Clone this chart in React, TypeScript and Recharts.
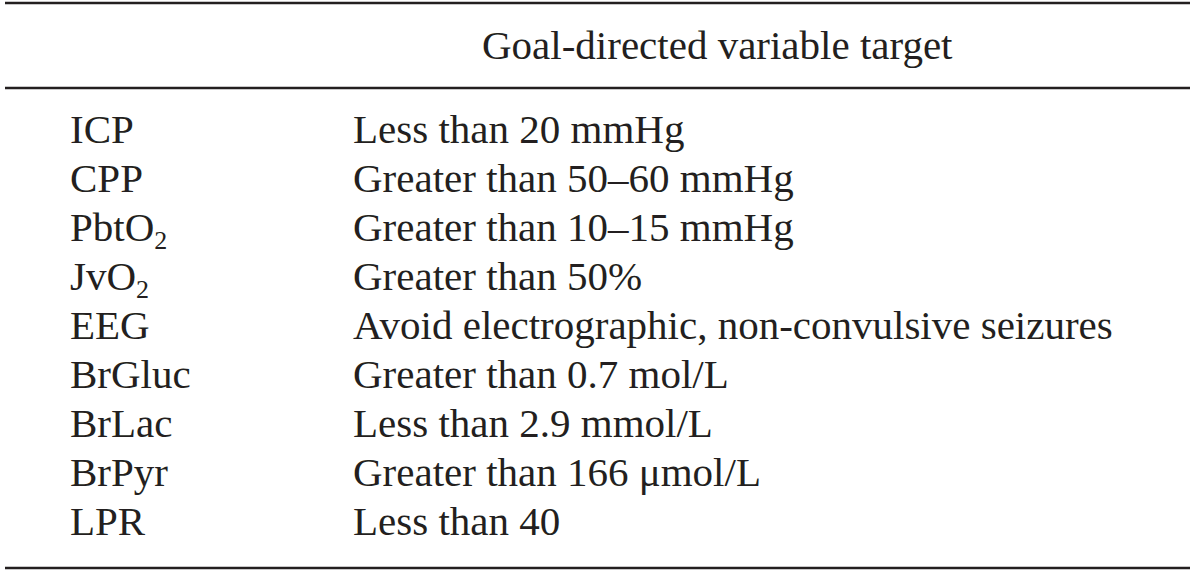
import { Bar, BarChart, XAxis, YAxis } from "recharts";

const variables = ["ICP", "CPP", "PbtO2", "JvO2", "EEG", "BrGluc", "BrLac", "BrPyr", "LPR"];
const targets = [
  "Less than 20 mmHg",
  "Greater than 50–60 mmHg",
  "Greater than 10–15 mmHg",
  "Greater than 50%",
  "Avoid electrographic, non-convulsive seizures",
  "Greater than 0.7 mol/L",
  "Less than 2.9 mmol/L",
  "Greater than 166 μmol/L",
  "Less than 40",
];
const headerTitle = "Goal-directed variable target";

const rows = variables.map((variable, i) => ({ variable, target: targets[i] }));

const INK = "#231f20";
const FONT = "'Liberation Serif', 'Times New Roman', serif";
const FONT_SIZE = 41;
const COL1_X = 70;
const COL2_X = 353;
const HEADER_X = 482;

// "PbtO2" -> PbtO with a subscript 2
function renderName(name: string) {
  const m = name.match(/^(.*O)2$/);
  if (!m) return name;
  return [
    <tspan key="b">{m[1]}</tspan>,
    <tspan key="s" dy={8} fontSize={26}>
      2
    </tspan>,
  ];
}

function RowTick(props: any) {
  const { y, index, payload } = props;
  const row = rows.find((r) => r.variable === payload?.value) ?? rows[index];
  return (
    <g fontFamily={FONT} fontSize={FONT_SIZE} fill={INK}>
      <text x={COL1_X} y={y} dy="0.35em" textAnchor="start">
        {renderName(String(payload.value))}
      </text>
      <text x={COL2_X} y={y} dy="0.35em" textAnchor="start">
        {row?.target}
      </text>
    </g>
  );
}

function HeaderLabel(props: any) {
  const vb = props.viewBox || { x: 5, y: 3, width: 1185, height: 85 };
  return (
    <g>
      <line
        x1={vb.x}
        x2={vb.x + vb.width}
        y1={vb.y}
        y2={vb.y}
        stroke={INK}
        strokeWidth={2.5}
      />
      <text
        x={HEADER_X}
        y={vb.y + vb.height / 2}
        dy="0.32em"
        fontFamily={FONT}
        fontSize={FONT_SIZE}
        fill={INK}
      >
        {headerTitle}
      </text>
    </g>
  );
}

export default function App() {
  return (
    <div style={{ position: "absolute", left: 0, top: 0, width: 1200, height: 575, background: "#fff" }}>
      <BarChart
        width={1200}
        height={575}
        data={rows}
        layout="vertical"
        margin={{ top: 3, right: 10, bottom: 0, left: 4 }}
      >
        <XAxis
          xAxisId="head"
          orientation="top"
          type="number"
          domain={[0, 1]}
          height={85}
          tick={false}
          tickLine={false}
          axisLine={{ stroke: INK, strokeWidth: 2.5 }}
          label={{ content: (p: any) => <HeaderLabel {...p} /> }}
        />
        <XAxis
          type="number"
          domain={[0, 1]}
          height={7}
          tick={false}
          tickLine={false}
          axisLine={{ stroke: INK, strokeWidth: 2.5 }}
        />
        <YAxis
          type="category"
          dataKey="variable"
          width={1}
          interval={0}
          axisLine={false}
          tickLine={false}
          padding={{ top: 16.5, bottom: 22.5 }}
          tick={(p: any) => <RowTick {...p} />}
        />
        <Bar dataKey="target" fill="none" isAnimationActive={false} />
      </BarChart>
    </div>
  );
}
